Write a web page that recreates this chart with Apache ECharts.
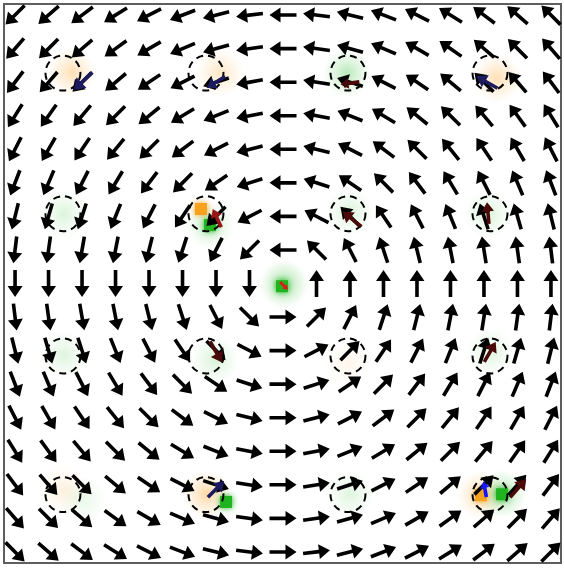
<!DOCTYPE html>
<html>
<head>
<meta charset="utf-8">
<script src="https://cdn.jsdelivr.net/npm/echarts@6/dist/echarts.min.js"></script>
<style>
  html, body { margin: 0; padding: 0; background: #fff; }
  #chart { width: 564px; height: 570px; }
</style>
</head>
<body>
<div id="chart"></div>
<script>
// Grid of the flow field: column / row positions (row 0 is at the top).
const fieldCols = [0, 1, 2, 3, 4, 5, 6, 7, 8, 9, 10, 11, 12, 13, 14, 15, 16];
const fieldRows = [16, 15, 14, 13, 12, 11, 10, 9, 8, 7, 6, 5, 4, 3, 2, 1, 0];

// Direction of each field arrow in degrees (counter-clockwise from +x), one row per line, top row first.
const fieldAngles = [
  [225, 221, 217, 212, 207, 201, 194, 187, 180, 173, 166, 159, 153, 148, 143, 139, 135],
  [229, 225, 221, 216, 210, 203, 196, 188, 180, 172, 164, 157, 150, 145, 139, 135, 131],
  [233, 229, 225, 220, 214, 207, 198, 190, 180, 171, 162, 153, 146, 140, 135, 131, 127],
  [238, 235, 230, 225, 219, 211, 202, 191, 180, 169, 158, 149, 141, 135, 130, 126, 122],
  [243, 240, 236, 231, 225, 217, 207, 194, 180, 166, 153, 143, 135, 129, 124, 120, 117],
  [249, 247, 243, 239, 233, 225, 214, 198, 180, 162, 146, 135, 127, 121, 117, 113, 111],
  [256, 254, 252, 248, 243, 236, 225, 207, 180, 153, 135, 124, 117, 112, 108, 106, 104],
  [263, 262, 260, 259, 256, 252, 243, 225, 180, 135, 117, 108, 104, 101, 99, 98, 97],
  [270, 270, 270, 270, 270, 270, 270, 270, null, 90, 90, 90, 90, 90, 90, 90, 90],
  [277, 278, 280, 281, 284, 288, 297, 315, 0, 45, 63, 72, 76, 79, 81, 82, 83],
  [284, 286, 288, 292, 297, 304, 315, 333, 0, 27, 45, 56, 63, 68, 72, 74, 76],
  [291, 293, 297, 301, 307, 315, 326, 342, 0, 18, 34, 45, 53, 59, 63, 67, 69],
  [297, 300, 304, 309, 315, 323, 333, 346, 0, 14, 27, 37, 45, 51, 56, 60, 63],
  [302, 306, 310, 315, 321, 329, 338, 349, 0, 11, 22, 31, 39, 45, 50, 55, 58],
  [307, 311, 315, 320, 326, 333, 342, 351, 0, 9, 18, 27, 34, 40, 45, 49, 53],
  [311, 315, 319, 324, 330, 337, 344, 352, 0, 8, 16, 23, 30, 36, 41, 45, 49],
  [315, 319, 323, 328, 333, 339, 346, 353, 0, 7, 14, 21, 27, 32, 37, 41, 45]
];

// Target regions (dashed rings) on a 4 x 4 layout.
const ringX = [1.43, 5.70, 9.94, 14.18];
const ringY = [14.27, 10.08, 5.84, 1.71];

// Soft heat glows: position, kind (o = orange, g = green) and intensity.
const glowX = [1.70, 6.12, 14.39, 9.91, 1.46, 10.00, 14.12, 8.03, 1.46, 5.97, 14.18, 9.91, 1.43, 2.03, 5.73, 10.00, 13.91, 14.54, 5.82];
const glowY = [14.30, 14.27, 14.12, 14.27, 10.07, 10.13, 10.07, 7.98, 5.87, 5.72, 5.96, 5.63, 1.84, 1.55, 1.72, 1.72, 1.69, 1.72, 9.74];
const glowKind = ['o', 'o', 'o', 'g', 'g', 'g', 'g', 'g', 'g', 'g', 'g', 'o', 'o', 'g', 'o', 'g', 'o', 'g', 'g'];
const glowLevel = [0.45, 0.35, 0.45, 0.4, 0.2, 0.2, 0.2, 0.5, 0.18, 0.22, 0.18, 0.12, 0.2, 0.13, 0.55, 0.18, 0.45, 0.45, 0.3];

// Sharp cells marking agent positions.
const cellX = [5.55, 5.82, 7.97, 13.91, 14.54, 6.30];
const cellY = [10.22, 9.74, 7.92, 1.69, 1.72, 1.49];
const cellKind = ['o', 'g', 'g', 'o', 'g', 'g'];

// Agent heading arrows: position, heading (deg), relative magnitude, colour key.
const agentX = [2.03, 6.00, 10.00, 14.09, 6.03, 10.06, 14.12, 8.03, 6.00, 14.18, 6.00, 14.03, 15.02];
const agentY = [14.03, 14.00, 13.97, 14.00, 9.95, 9.92, 10.10, 7.93, 5.96, 5.96, 1.87, 1.87, 1.90];
const agentAngle = [223, 212, 188, 150, 115, 141, 95, 315, 299, 60, 45, 100, 49];
const agentMag = [0.95, 0.8, 0.7, 0.9, 0.75, 0.9, 0.8, 0.4, 0.9, 0.85, 0.85, 0.6, 0.9];
const agentKey = ['navy', 'navy', 'maroon', 'navy', 'red', 'maroon', 'maroon', 'bright', 'maroon', 'maroon', 'navy', 'blue', 'maroon'];

const PALETTE = {
  navy: '#1b1b5e', maroon: '#4a0a0a', red: '#9a1616', bright: '#e4141c', blue: '#1414ff'
};
const GLOW_RGB = { o: '255,185,90', g: '80,200,80' };
const CELL_COLOR = { o: '#f6a21e', g: '#1fb41f' };

const ARROW_LEN = 27;

// Build a filled arrow polygon centred on (cx, cy).
function arrowPolygon(cx, cy, angDeg, len, color) {
  const a = angDeg * Math.PI / 180;
  const dx = Math.cos(a), dy = -Math.sin(a);
  const nx = -dy, ny = dx;
  const headLen = Math.min(11, len * 0.42);
  const headHalf = headLen * 0.68;
  const shaftHalf = len < 16 ? 1.4 : 1.8;
  const tx = cx - dx * len / 2, ty = cy - dy * len / 2;
  const px = cx + dx * len / 2, py = cy + dy * len / 2;
  const kx = px - dx * headLen, ky = py - dy * headLen;
  return {
    type: 'polygon',
    shape: {
      points: [
        [tx + nx * shaftHalf, ty + ny * shaftHalf],
        [kx + nx * shaftHalf, ky + ny * shaftHalf],
        [kx + nx * headHalf, ky + ny * headHalf],
        [px, py],
        [kx - nx * headHalf, ky - ny * headHalf],
        [kx - nx * shaftHalf, ky - ny * shaftHalf],
        [tx - nx * shaftHalf, ty - ny * shaftHalf]
      ]
    },
    style: { fill: color }
  };
}

const fieldData = [];
fieldAngles.forEach((row, j) => {
  row.forEach((ang, i) => {
    if (ang !== null) fieldData.push([fieldCols[i], fieldRows[j], ang]);
  });
});

const ringData = [];
ringY.forEach(y => ringX.forEach(x => ringData.push([x, y])));

const glowData = glowX.map((x, k) => ({
  value: [x, glowY[k]],
  itemStyle: {
    opacity: 1,
    color: {
      type: 'radial', x: 0.5, y: 0.5, r: 0.5,
      colorStops: [
        { offset: 0, color: 'rgba(' + GLOW_RGB[glowKind[k]] + ',' + glowLevel[k] + ')' },
        { offset: 0.5, color: 'rgba(' + GLOW_RGB[glowKind[k]] + ',' + (glowLevel[k] * 0.45) + ')' },
        { offset: 1, color: 'rgba(' + GLOW_RGB[glowKind[k]] + ',0)' }
      ]
    }
  }
}));

const cellData = cellX.map((x, k) => ({
  value: [x, cellY[k]],
  itemStyle: { opacity: 1, color: CELL_COLOR[cellKind[k]], shadowBlur: 6, shadowColor: CELL_COLOR[cellKind[k]] }
}));

const agentData = agentX.map((x, k) => [x, agentY[k], agentAngle[k], agentMag[k]]);

const chart = echarts.init(document.getElementById('chart'), null, { renderer: 'canvas' });

const hiddenAxis = {
  type: 'value',
  axisLine: { show: false }, axisTick: { show: false },
  axisLabel: { show: false }, splitLine: { show: false }
};

chart.setOption({
  animation: false,
  backgroundColor: '#ffffff',
  grid: {
    left: 4, top: 4, width: 557, height: 559,
    show: true, borderColor: '#5e5e5e', borderWidth: 2, backgroundColor: '#ffffff'
  },
  xAxis: Object.assign({ min: -0.33, max: 16.30 }, hiddenAxis),
  yAxis: Object.assign({ min: -0.33, max: 16.33 }, hiddenAxis),
  series: [
    {
      type: 'scatter', z: 1, symbol: 'circle', symbolSize: 48,
      data: glowData, silent: true
    },
    {
      type: 'scatter', z: 2, symbol: 'rect', symbolSize: 12,
      data: cellData, silent: true
    },
    {
      type: 'custom', z: 3, silent: true,
      renderItem: (params, api) => {
        const c = api.coord([api.value(0), api.value(1)]);
        return arrowPolygon(c[0], c[1], api.value(2), ARROW_LEN, '#000000');
      },
      data: fieldData
    },
    {
      type: 'scatter', z: 4, symbol: 'circle', symbolSize: 35, silent: true,
      itemStyle: { opacity: 1, color: 'rgba(0,0,0,0)', borderColor: '#000', borderWidth: 2, borderType: [7, 5] },
      data: ringData
    },
    {
      type: 'custom', z: 5, silent: true,
      renderItem: (params, api) => {
        const c = api.coord([api.value(0), api.value(1)]);
        const col = PALETTE[agentKey[params.dataIndex]];
        return arrowPolygon(c[0], c[1], api.value(2), ARROW_LEN * api.value(3), col);
      },
      data: agentData
    }
  ]
});
</script>
</body>
</html>
